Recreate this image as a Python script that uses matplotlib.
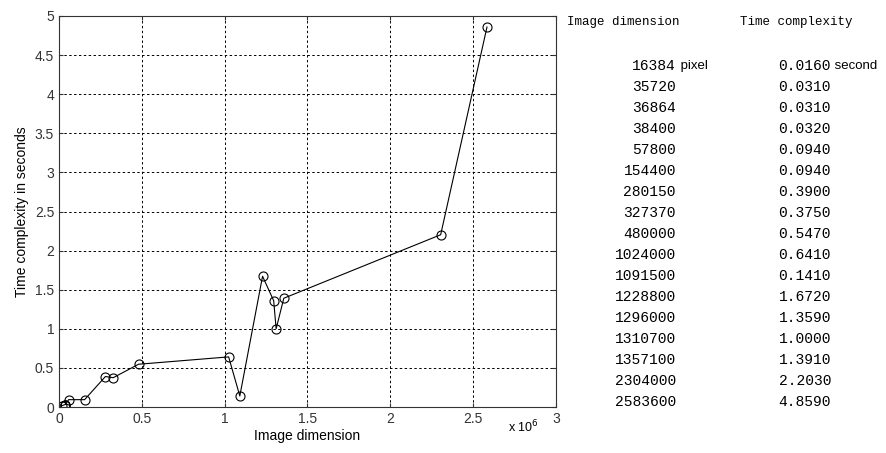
import numpy as np
import matplotlib.pyplot as plt

plt.rcParams['font.family'] = ['Liberation Sans', 'DejaVu Sans']

# Datos: dimension de imagen (pixeles) y tiempo (segundos)
dims = [16384, 35720, 36864, 38400, 57800, 154400, 280150, 327370, 480000,
        1024000, 1091500, 1228800, 1296000, 1310700, 1357100, 2304000, 2583600]
times = [0.0160, 0.0310, 0.0310, 0.0320, 0.0940, 0.0940, 0.3900, 0.3750, 0.5470,
         0.6410, 0.1410, 1.6720, 1.3590, 1.0000, 1.3910, 2.2030, 4.8590]
x_ticks = [0, 0.5, 1, 1.5, 2, 2.5, 3]
y_ticks = [0, 0.5, 1, 1.5, 2, 2.5, 3, 3.5, 4, 4.5, 5]

fig = plt.figure(figsize=(8.86, 4.53), dpi=100)
ax = fig.add_axes([0.0666, 0.1015, 0.5609, 0.8632])

ax.plot(np.array(dims) / 1e6, times, 'k-', linewidth=0.8,
        marker='o', markersize=6.5, markerfacecolor='none', markeredgecolor='k',
        markeredgewidth=0.8)

ax.set_xlim(0, 3)
ax.set_ylim(0, 5)
ax.set_xticks(x_ticks)
ax.set_yticks(y_ticks)
ax.set_xticklabels([f'{t:g}' for t in x_ticks])
ax.set_yticklabels([f'{t:g}' for t in y_ticks])
ax.tick_params(direction='in', length=3, labelsize=10, colors='#333333',
               top=True, right=True)
ax.grid(True, color='k', linestyle=(0, (2.5, 2.5)), linewidth=0.7)
for s in ax.spines.values():
    s.set_color('#333333')
    s.set_linewidth(0.8)

ax.set_xlabel('Image dimension', fontsize=10, labelpad=2)
ax.set_ylabel('Time complexity in seconds', fontsize=10, labelpad=4)
fig.text(0.573, 0.045, r'x 10$^{6}$', fontsize=9)

# Tabla a la derecha
mono = 'Liberation Mono'
fig.text(567 / 886, 1 - 22 / 453, 'Image dimension', family=mono, fontsize=9,
         va='center', ha='left')
fig.text(740 / 886, 1 - 22 / 453, 'Time complexity', family=mono, fontsize=9,
         va='center', ha='left')

row_y0 = 66
row_dy = 21
for i, (d, t) in enumerate(zip(dims, times)):
    yy = 1 - (row_y0 + i * row_dy) / 453
    fig.text(676 / 886, yy, f'{d}', family=mono, fontsize=10.5,
             va='center', ha='right')
    fig.text(831 / 886, yy, f'{t:.4f}', family=mono, fontsize=10.5,
             va='center', ha='right')
    if i == 0:
        fig.text(677 / 886, yy, ' pixel', fontsize=9.5, va='center', ha='left')
        fig.text(831 / 886, yy, ' second', fontsize=9.5, va='center', ha='left')

fig.savefig('out.png', dpi=100)
